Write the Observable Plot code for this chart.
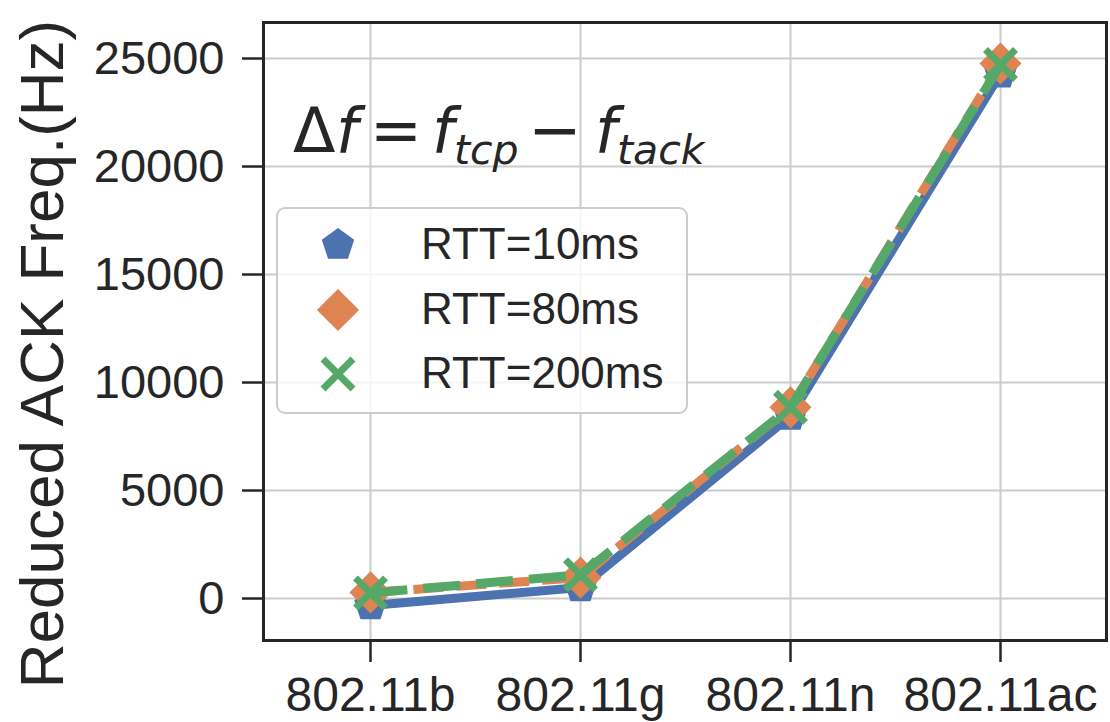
<!DOCTYPE html>
<html>
<head>
<meta charset="utf-8">
<script src="https://cdn.jsdelivr.net/npm/d3@7"></script>
<script src="https://cdn.jsdelivr.net/npm/@observablehq/plot@0.6"></script>
<style>
  html, body { margin: 0; padding: 0; background: white; }
</style>
</head>
<body>
<div id="chart"></div>
<script>
// ---- data ----
const standards = ["802.11b", "802.11g", "802.11n", "802.11ac"];
const rtt10 = [-320, 510, 8450, 24300];
const rtt80 = [280, 970, 8850, 24770];
const rtt200 = [260, 1100, 8850, 24720];
const seriesNames = ["RTT=10ms", "RTT=80ms", "RTT=200ms"];
const seriesColors = ["#4c72b0", "#dd8452", "#55a868"];
const yTicks = [0, 5000, 10000, 15000, 20000, 25000];
const yLabel = "Reduced ACK Freq.(Hz)";

const rows = vals => standards.map((s, i) => ({standard: s, value: vals[i]}));
const d10 = rows(rtt10), d80 = rows(rtt80), d200 = rows(rtt200);

// custom pentagon symbol (matplotlib "p")
const pentagon = {
  draw(ctx, size) {
    const R = Math.sqrt(size / Math.PI);
    for (let i = 0; i < 5; i++) {
      const a = -Math.PI / 2 + i * 2 * Math.PI / 5;
      const x = R * Math.cos(a), y = R * Math.sin(a);
      if (i) ctx.lineTo(x, y); else ctx.moveTo(x, y);
    }
    ctx.closePath();
  }
};

const ink = "#262626";
const plot = Plot.plot({
  width: 1110,
  height: 722,
  marginLeft: 263,
  marginRight: 4,
  marginTop: 22,
  marginBottom: 82,
  style: {fontFamily: "'Liberation Sans', Arial, sans-serif", background: "white", overflow: "visible"},
  x: {type: "point", domain: standards, padding: 0.5, axis: null},
  y: {domain: [-1944, 26667], axis: null},
  marks: [
    Plot.gridY(yTicks, {stroke: "#cccccc", strokeOpacity: 1, strokeWidth: 2}),
    Plot.gridX(standards, {stroke: "#cccccc", strokeOpacity: 1, strokeWidth: 2}),
    Plot.line(d10, {x: "standard", y: "value", stroke: seriesColors[0], strokeWidth: 9}),
    Plot.dot(d10, {x: "standard", y: "value", symbol: pentagon, r: 17, fill: seriesColors[0]}),
    Plot.line(d80, {x: "standard", y: "value", stroke: seriesColors[1], strokeWidth: 9, strokeDasharray: "30,13", strokeLinecap: "butt"}),
    Plot.dot(d80, {x: "standard", y: "value", symbol: "diamond2", r: 19, fill: seriesColors[1]}),
    Plot.line(d200, {x: "standard", y: "value", stroke: seriesColors[2], strokeWidth: 9, strokeDasharray: "37,16", strokeLinecap: "butt"}),
    Plot.dot(d200, {x: "standard", y: "value", symbol: "times", r: 13.7, stroke: seriesColors[2], fill: "none", strokeWidth: 7}),
    Plot.frame({stroke: ink, strokeWidth: 3}),
    Plot.axisY(yTicks, {tickSize: 21, tickPadding: 18, fontSize: 47, color: ink, strokeWidth: 2.5, label: null, tickFormat: d => String(d)}),
    Plot.axisX(standards, {tickSize: 22, tickPadding: 14, fontSize: 48, color: ink, strokeWidth: 2.5, label: null})
  ]
});

const svg = d3.select(plot);

// y-axis label
svg.append("text")
  .attr("transform", "translate(63,354) rotate(-90)")
  .attr("text-anchor", "middle")
  .attr("font-family", "'Liberation Sans', Arial, sans-serif")
  .attr("font-size", 62)
  .attr("fill", ink)
  .text(yLabel);

// annotation: Δf = f_tcp − f_tack
const ann = svg.append("g")
  .attr("font-family", "'DejaVu Sans', sans-serif")
  .attr("text-anchor", "start")
  .attr("fill", ink);
const piece = (txt, x, y, size, italic) => ann.append("text")
  .attr("x", x).attr("y", y).attr("font-size", size)
  .attr("text-anchor", "start")
  .attr("font-style", italic ? "italic" : "normal").text(txt);
piece("Δ", 293, 152, 62, false);
piece("f", 336, 152, 62, true);
piece("=", 370, 152, 62, false);
piece("f", 432, 152, 62, true);
piece("tcp", 454, 164, 41, true);
piece("−", 528, 152, 64, false);
piece("f", 595, 152, 62, true);
piece("tack", 617, 164, 41, true);

// legend
const lg = svg.append("g");
lg.append("rect")
  .attr("x", 277).attr("y", 208).attr("width", 410).attr("height", 205).attr("rx", 8)
  .attr("fill", "white").attr("fill-opacity", 0.8)
  .attr("stroke", "#cccccc").attr("stroke-width", 2);
const legendSymbols = [
  {type: pentagon, size: Math.PI * 17 * 17, filled: true},
  {type: d3.symbolDiamond2, size: Math.PI * 19 * 19, filled: true},
  {type: d3.symbolTimes, size: Math.PI * 13.7 * 13.7, filled: false}
];
const rowY = [245, 310, 374];
seriesNames.forEach((name, i) => {
  const s = legendSymbols[i];
  const p = lg.append("path")
    .attr("transform", `translate(338,${rowY[i]})`)
    .attr("d", d3.symbol(s.type, s.size)());
  if (s.filled) p.attr("fill", seriesColors[i]);
  else p.attr("fill", "none").attr("stroke", seriesColors[i]).attr("stroke-width", 7);
  lg.append("text")
    .attr("x", 421).attr("y", rowY[i] + 14)
    .attr("text-anchor", "start")
    .attr("font-family", "'Liberation Sans', Arial, sans-serif")
    .attr("font-size", 44)
    .attr("fill", ink)
    .text(name);
});

document.getElementById("chart").appendChild(plot);
</script>
</body>
</html>
